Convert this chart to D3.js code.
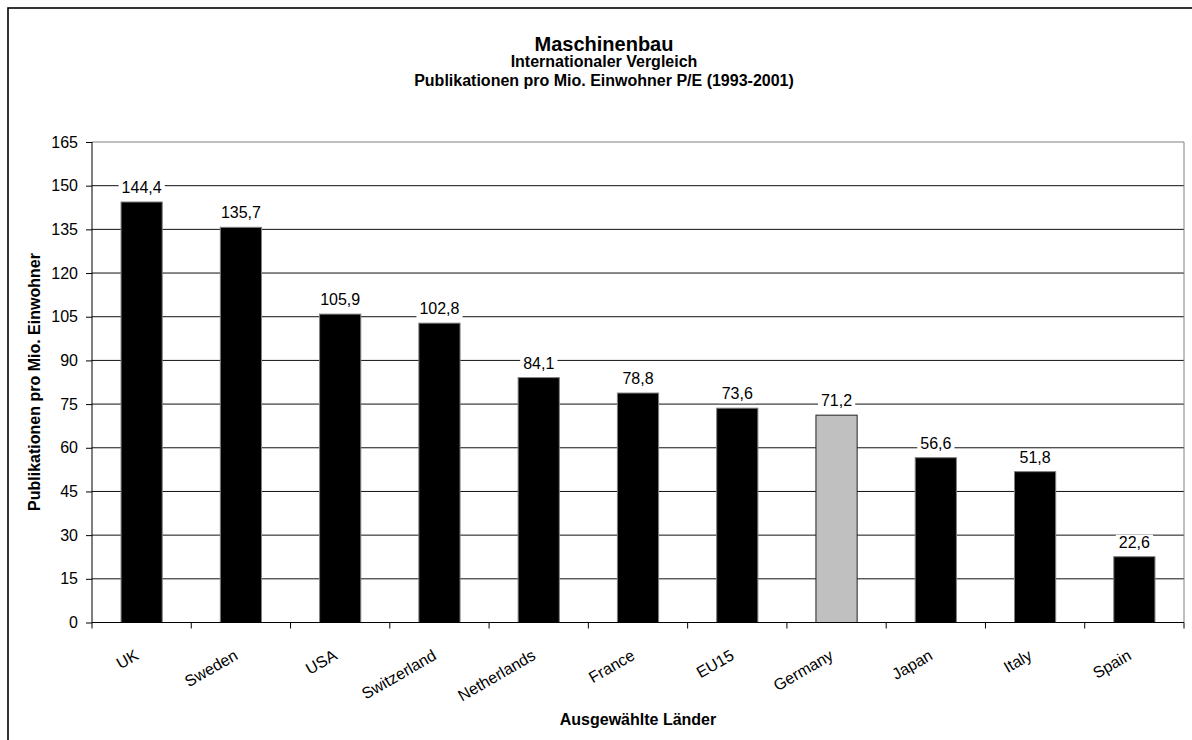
<!DOCTYPE html>
<html><head><meta charset="utf-8">
<script src="https://cdn.jsdelivr.net/npm/d3@7"></script>
<style>body{margin:0;background:#fff;} text{font-family:"Liberation Sans",Arial,sans-serif;}</style>
</head><body>
<svg id="c" width="1192" height="740"></svg>
<script>
const categories = ["UK","Sweden","USA","Switzerland","Netherlands","France","EU15","Germany","Japan","Italy","Spain"];
const values = [144.4,135.7,105.9,102.8,84.1,78.8,73.6,71.2,56.6,51.8,22.6];
const yTicks = [0,15,30,45,60,75,90,105,120,135,150,165];
const highlight = "Germany";

const svg = d3.select("#c");
const m = {left:92, right:1184, top:142, bottom:622.5};

// outer frame
svg.append("rect").attr("x",8).attr("y",8).attr("width",1200).attr("height",760)
  .attr("fill","none").attr("stroke","#000").attr("stroke-width",1.6);

const x = d3.scaleBand().domain(categories).range([m.left,m.right]).paddingInner(0.585).paddingOuter(0.2925);
const y = d3.scaleLinear().domain([0,165]).range([m.bottom,m.top]);

// gridlines
svg.append("g").selectAll("line").data(yTicks.filter(d=>d>0)).join("line")
  .attr("x1",m.left).attr("x2",m.right).attr("y1",d=>y(d)).attr("y2",d=>y(d))
  .attr("stroke",(d)=>d===165?"#808080":"#111").attr("stroke-width",1);
// right border
svg.append("line").attr("x1",m.right).attr("x2",m.right).attr("y1",m.top).attr("y2",m.bottom).attr("stroke","#808080");

// bars
svg.append("g").selectAll("rect").data(values).join("rect")
  .attr("x",(d,i)=>x(categories[i])).attr("width",x.bandwidth())
  .attr("y",d=>y(d)).attr("height",d=>y(0)-y(d))
  .attr("fill",(d,i)=>categories[i]===highlight?"#c0c0c0":"#000")
  .attr("stroke",(d,i)=>categories[i]===highlight?"#222":"#808080").attr("stroke-width",1);

// y axis
const ya = svg.append("g").attr("transform",`translate(${m.left},0)`)
  .call(d3.axisLeft(y).tickValues(yTicks).tickSize(6).tickPadding(8).tickFormat(d3.format("d")));
ya.select(".domain").attr("stroke","#000").attr("d",`M0,${m.top}V${m.bottom}`);
ya.selectAll("text").attr("font-size",16).attr("fill","#000").style("font-family","Liberation Sans, Arial");
ya.selectAll(".tick line").attr("stroke","#000");

// x axis
const bounds = d3.range(categories.length+1).map(i=>m.left+i*(m.right-m.left)/categories.length);
svg.append("line").attr("x1",m.left).attr("x2",m.right).attr("y1",m.bottom).attr("y2",m.bottom).attr("stroke","#000");
svg.append("g").selectAll("line").data(bounds).join("line")
  .attr("x1",d=>d).attr("x2",d=>d).attr("y1",m.bottom).attr("y2",m.bottom+6).attr("stroke","#000");

const xa = svg.append("g").attr("transform",`translate(0,${m.bottom})`)
  .call(d3.axisBottom(x).tickSize(0).tickPadding(0));
xa.select(".domain").remove();
xa.selectAll(".tick text").attr("font-size",16).attr("fill","#000")
  .style("font-family","Liberation Sans, Arial")
  .attr("text-anchor","end").attr("dy",0).attr("y",0)
  .attr("transform","translate(-2,36) rotate(-30)");

// value labels
const lg = svg.append("g");
values.forEach((v,i)=>{
  const cx = x(categories[i])+x.bandwidth()/2;
  const t = lg.append("text").attr("x",cx).attr("y",y(v)-9).attr("text-anchor","middle")
    .attr("font-size",16).attr("fill","#000").text(d3.format(".1f")(v).replace(".",","));
  const bb = t.node().getBBox();
  lg.insert("rect","text").attr("x",bb.x-3).attr("y",bb.y+1).attr("width",bb.width+6).attr("height",bb.height).attr("fill","#fff");
});

// titles
const cxT = 604;
svg.append("text").attr("x",cxT).attr("y",51).attr("text-anchor","middle").attr("font-size",20).attr("font-weight","bold").text("Maschinenbau");
svg.append("text").attr("x",cxT).attr("y",67).attr("text-anchor","middle").attr("font-size",16).attr("font-weight","bold").text("Internationaler Vergleich");
svg.append("text").attr("x",cxT).attr("y",86).attr("text-anchor","middle").attr("font-size",16).attr("font-weight","bold").text("Publikationen pro Mio. Einwohner P/E (1993-2001)");
svg.append("text").attr("x",638).attr("y",725).attr("text-anchor","middle").attr("font-size",16).attr("font-weight","bold").text("Ausgewählte Länder");
svg.append("text").attr("transform","translate(40,382) rotate(-90)").attr("text-anchor","middle").attr("font-size",16).attr("font-weight","bold").text("Publikationen pro Mio. Einwohner");
</script>
</body></html>
